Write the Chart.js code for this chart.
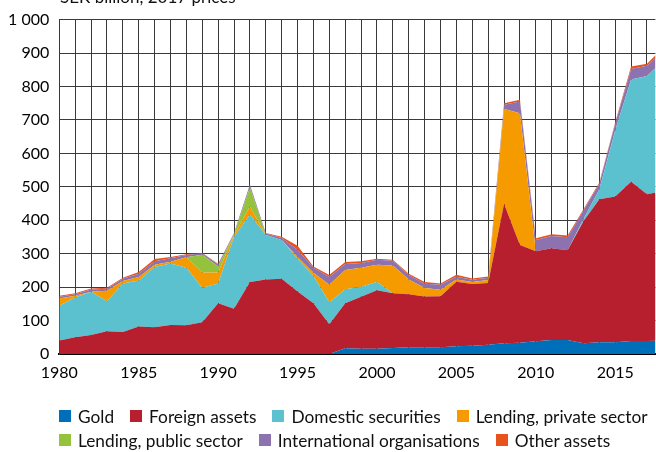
<!DOCTYPE html>
<html><head><meta charset="utf-8">
<script src="https://cdn.jsdelivr.net/npm/chart.js@4"></script>
<style>
html,body{margin:0;padding:0;background:#fff;overflow:hidden;}
#wrap{position:relative;width:656px;height:452px;overflow:hidden;font-family:Lato,sans-serif;color:#111;}
#c{position:absolute;left:0;top:0;}
#unit{position:absolute;left:60px;top:-12px;font-size:17px;line-height:17px;white-space:nowrap;}
#legend{position:absolute;left:59px;top:404px;font-size:17.3px;}
.row{display:flex;height:24px;align-items:center;white-space:nowrap;}
.item{display:flex;align-items:center;margin-right:16px;}
.sw{width:12px;height:12px;margin-right:7px;flex:none;}
</style></head>
<body><div id="wrap"><canvas id="c" width="656" height="452"></canvas><div id="unit">SEK billion, 2017 prices</div><div id="legend"></div></div>
<script>
const years = [1980,1981,1982,1983,1984,1985,1986,1987,1988,1989,1990,1991,1992,1993,1994,1995,1996,1997,1998,1999,2000,2001,2002,2003,2004,2005,2006,2007,2008,2009,2010,2011,2012,2013,2014,2015,2016,2017,2018];
const gold = [0,0,0,0,0,0,0,0,0,0, 0,0,0,0,0,0,0,0,17,16, 16,18,20,20,20,23,25,28,32,34, 38,42,42,32,35,35,39,39,40];
const foreignAssets = [40,50,57,68,66,82,80,87,86,95, 152,135,215,223,225,187,152,89,135,155, 175,164,159,152,153,193,184,184,417,292, 269,274,268,365,428,436,476,439,447];
const domesticSecurities = [104,119,129,90,145,138,180,184,172,103, 59,215,202,133,116,98,81,66,42,30, 24,0,0,0,0,0,0,0,0,0, 0,0,0,7,30,198,306,353,389];
const lendingPrivate = [22,5,0,31,7,10,7,5,31,46, 33,5,24,0,0,5,10,52,57,57, 52,83,44,25,19,7,6,9,284,394, 0,0,0,0,0,0,0,0,0];
const lendingPublic = [0,0,0,0,0,0,0,0,0,53, 18,2,57,0,0,0,0,0,0,0, 0,0,0,0,0,0,0,0,0,0, 0,0,0,0,0,0,0,0,0];
const intlOrgs = [5,5,7,6,7,10,10,10,7,4, 6,4,8,4,6,22,15,23,18,14, 15,14,13,13,15,8,7,7,12,35, 34,37,39,25,16,20,31,31,30];
const otherAssets = [3,3,3,3,3,5,7,4,2,1, 2,1,1,2,4,12,4,6,6,5, 3,3,4,5,4,6,4,4,5,5, 5,5,5,4,4,4,8,6,10];
const seriesLabels = ["Gold","Foreign assets","Domestic securities","Lending, private sector","Lending, public sector","International organisations","Other assets"];
const seriesColors = ["#006fb9","#b71e2e","#5bc1cf","#f59b00","#95c23d","#8d72b0","#e8531d"];
const seriesValues = [gold, foreignAssets, domesticSecurities, lendingPrivate, lendingPublic, intlOrgs, otherAssets];
const yTickLabels = {1000: "1 000"};

const datasets = seriesValues.map((vals, i) => ({
  label: seriesLabels[i],
  data: years.map((yr, j) => ({x: yr, y: vals[j]})),
  backgroundColor: seriesColors[i],
  borderColor: seriesColors[i],
  borderWidth: 0,
  pointRadius: 0,
  pointHoverRadius: 0,
  tension: 0,
  fill: i === 0 ? 'origin' : '-1'
}));

const gridColor = '#3a3a3a';
const font = {family: 'Lato, sans-serif', size: 16};

new Chart(document.getElementById('c'), {
  type: 'line',
  data: {datasets},
  options: {
    responsive: false,
    animation: false,
    events: [],
    layout: {padding: {top: 14, right: 0, bottom: 62, left: 0}},
    plugins: {legend: {display: false}, tooltip: {enabled: false}},
    scales: {
      x: {
        type: 'linear', min: 1980, max: 2017.53,
        afterFit: s => { s.height = 36; },
        ticks: {stepSize: 1, autoSkip: false, maxRotation: 0, includeBounds: false, maxTicksLimit: 100,
          callback: v => (v % 5 === 0 ? String(v) : ''), color: '#000', font, padding: 9},
        grid: {color: gridColor, lineWidth: 1, drawTicks: false},
        border: {color: '#000', width: 2}
      },
      y: {
        stacked: true, min: 0, max: 1000,
        afterFit: s => { s.width = 59.3; },
        ticks: {stepSize: 100, color: '#000', font, padding: 10,
          callback: v => (yTickLabels[v] || String(v))},
        grid: {color: gridColor, lineWidth: 1, drawTicks: false},
        border: {color: gridColor, width: 1}
      }
    }
  }
});

const legend = document.getElementById('legend');
[[0,1,2,3],[4,5,6]].forEach(rowIdx => {
  const row = document.createElement('div');
  row.className = 'row';
  rowIdx.forEach(i => {
    const it = document.createElement('div');
    it.className = 'item';
    const sw = document.createElement('span');
    sw.className = 'sw';
    sw.style.background = seriesColors[i];
    const tx = document.createElement('span');
    tx.textContent = seriesLabels[i];
    it.appendChild(sw); it.appendChild(tx);
    row.appendChild(it);
  });
  legend.appendChild(row);
});
</script>
</body></html>
